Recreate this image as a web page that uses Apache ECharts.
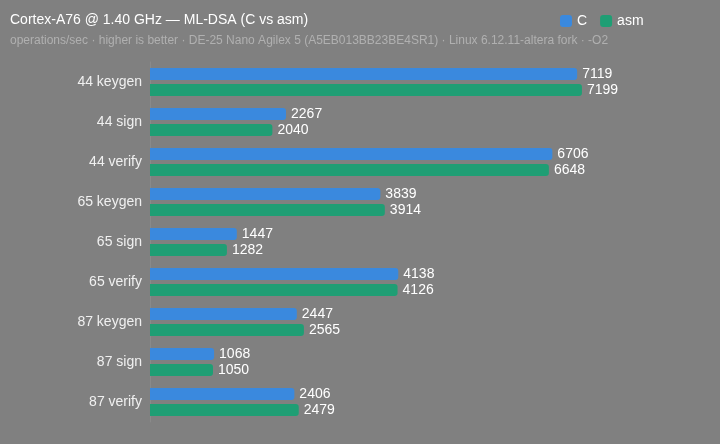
<!DOCTYPE html>
<html><head><meta charset="utf-8">
<script src="https://cdn.jsdelivr.net/npm/echarts@6/dist/echarts.min.js"></script>
<style>html,body{margin:0;padding:0;background:#808080}#c{width:720px;height:444px}</style>
</head><body><div id="c"></div>
<script>
const categories = ["44 keygen","44 sign","44 verify","65 keygen","65 sign","65 verify","87 keygen","87 sign","87 verify"];
const cValues = [7119,2267,6706,3839,1447,4138,2447,1068,2406];
const asmValues = [7199,2040,6648,3914,1282,4126,2565,1050,2479];
const titleText = "Cortex-A76 @ 1.40 GHz — ML-DSA (C vs asm)";
const subtitleText = "operations/sec · higher is better · DE-25 Nano Agilex 5 (A5EB013BB23BE4SR1) · Linux 6.12.11-altera fork · -O2";

const chart = echarts.init(document.getElementById('c'));
const font = "Helvetica, Arial, 'Liberation Sans', sans-serif";
chart.setOption({
  backgroundColor: '#808080',
  animation: false,
  textStyle: { fontFamily: font },
  title: {
    text: titleText, subtext: subtitleText, left: 5, top: 8, itemGap: 8,
    textStyle: { color: '#ffffff', fontSize: 14, fontWeight: 'normal', fontFamily: font },
    subtextStyle: { color: '#b0b0b0', fontSize: 12, fontFamily: font }
  },
  legend: {
    left: 555, top: 9, itemWidth: 12, itemHeight: 12, itemGap: 13,
    icon: 'roundRect',
    textStyle: { color: '#ffffff', fontSize: 14, fontFamily: font },
    data: ['C','asm']
  },
  grid: { left: 150, right: 90, top: 62, bottom: 22, containLabel: false },
  xAxis: { type: 'value', min: 0, max: 8000, show: false },
  yAxis: {
    type: 'category', data: categories, inverse: true,
    axisLine: { show: true, lineStyle: { color: '#8a8a8a' } },
    axisTick: { show: false },
    axisLabel: { color: '#f0f0f0', fontSize: 14, margin: 8, fontFamily: font }
  },
  series: [
    { name: 'C', type: 'bar', data: cValues, barWidth: 12, barGap: '33%',
      itemStyle: { color: '#3a89de', borderRadius: [0,3,3,0] },
      label: { show: true, position: 'right', color: '#ffffff', fontSize: 14, distance: 5, fontFamily: font } },
    { name: 'asm', type: 'bar', data: asmValues, barWidth: 12,
      itemStyle: { color: '#1f9e74', borderRadius: [0,3,3,0] },
      label: { show: true, position: 'right', color: '#ffffff', fontSize: 14, distance: 5, fontFamily: font } }
  ]
});
</script></body></html>
